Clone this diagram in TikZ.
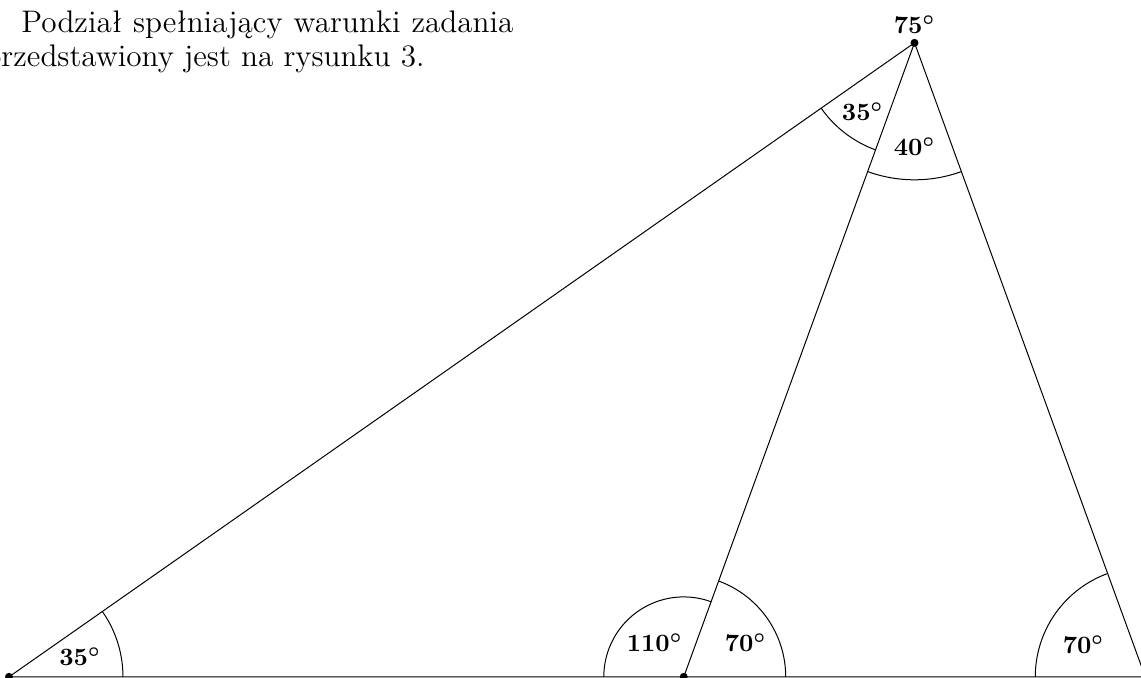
\documentclass[tikz,border=0pt]{standalone}
\usepackage{fontspec}
\usetikzlibrary{calc}
\tikzset{
  kat/.style={font=\boldmath},
  luk/.style={thin},
  akapit/.style={anchor=base west,inner sep=0pt,text width=7.45cm,
    align=justify,font=\fontsize{12.5}{13.6}\selectfont}
}
\begin{document}
\begin{tikzpicture}

\useasboundingbox (0,-0.014) rectangle (16.07,9.533);

% Wierzcholki
\coordinate (A) at (0.127,0);
\coordinate (D) at (9.63,0);
\coordinate (C) at (16.13,0);
\coordinate (T) at (12.88,8.93);

% Trojkat
\draw
(A)
--
(C)
--
(T)
--
cycle;

\draw (D) -- (T);

% Punkty
\fill (A) circle (1.6pt);
\fill (D) circle (1.6pt);
\fill (T) circle (1.6pt);

% Luki
\draw[luk] ([shift={(0:1.605)}]A) arc (0:35:1.605);
\draw[luk] ([shift={(70:1.126)}]D) arc (70:180:1.126);
\draw[luk] ([shift={(0:1.436)}]D) arc (0:70:1.436);
\draw[luk] ([shift={(110:1.549)}]C) arc (110:180:1.549);
\draw[luk] ([shift={(215:1.605)}]T) arc (215:250:1.605);
\draw[luk] ([shift={(250:1.93)}]T) arc (250:290:1.93);

% Katy
\node[kat] (kA) at ($(A)+(1.0,0.28)$) {$\mathbf{35^\circ}$};
\node[kat] (kD1) at ($(D)+(-0.41,0.48)$) {$\mathbf{110^\circ}$};
\node[kat] (kD2) at ($(D)+(0.87,0.48)$) {$\mathbf{70^\circ}$};
\node[kat] (kC) at ($(C)+(-0.87,0.46)$) {$\mathbf{70^\circ}$};
\node[kat] (kT1) at ($(T)+(-0.73,-0.97)$) {$\mathbf{35^\circ}$};
\node[kat] (kT2) at ($(T)+(0,-1.46)$) {$\mathbf{40^\circ}$};
\node[kat,above] (kT) at (T) {$\mathbf{75^\circ}$};

% Tekst
\node[akapit] (txt) at (-0.225,9.08)
{\hspace*{0.52cm}Podział spełniający warunki zadania\linebreak
przedstawiony jest na rysunku 3.};

\end{tikzpicture}
\end{document}
